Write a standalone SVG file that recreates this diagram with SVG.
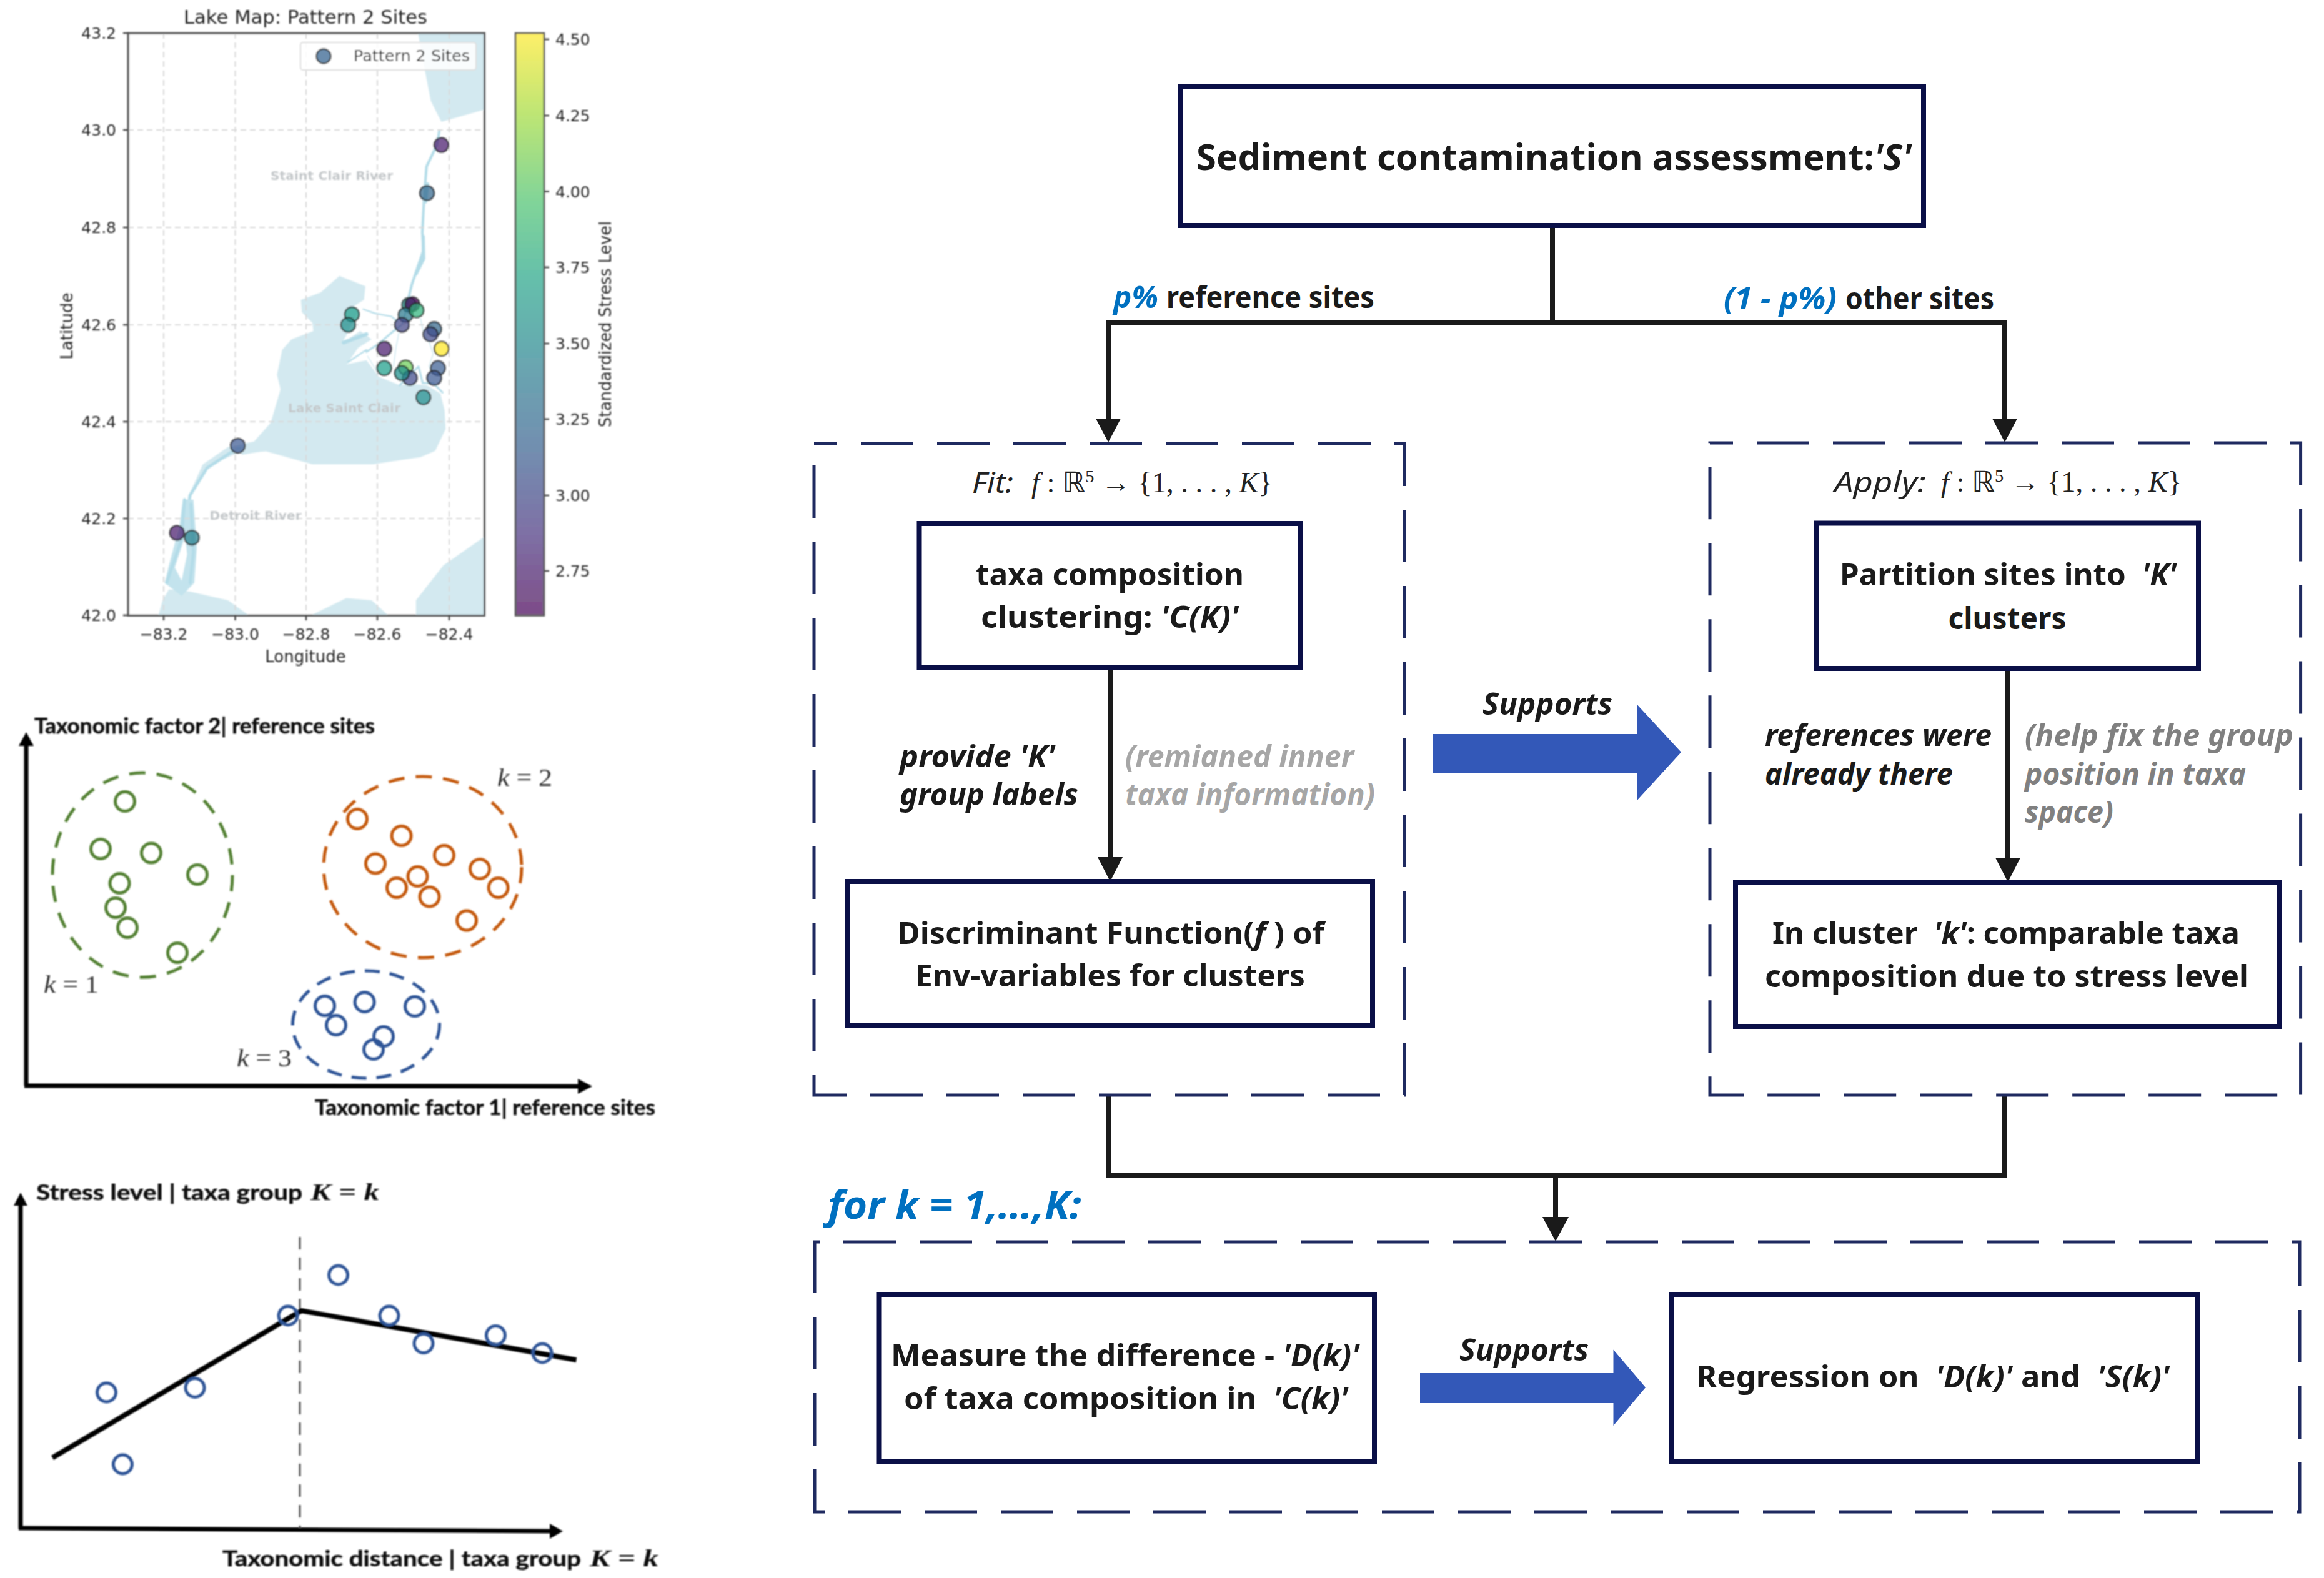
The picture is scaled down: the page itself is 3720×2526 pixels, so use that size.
<svg xmlns="http://www.w3.org/2000/svg" width="3720" height="2526" viewBox="0 0 3720 2526">
<defs>
<style>
.bg{fill:#fff}
.dj{font-family:"DejaVu Sans",sans-serif;fill:#262626}
.tick{font-size:25px}
.lab{font-size:26px}
.place{font-family:"DejaVu Sans",sans-serif;font-size:20px;font-weight:700;fill:#c4c8ca}
.grid{stroke:#d8d8d8;stroke-width:2;stroke-dasharray:9 6;fill:none}
.water{fill:#d3e9f0}
.river{fill:none;stroke:#b3dce8;stroke-linejoin:round;stroke-linecap:round}
.site{stroke:#222;stroke-opacity:.75;stroke-width:2.5;fill-opacity:.72}
.frame{fill:none;stroke:#555;stroke-width:3}
.tk{stroke:#444;stroke-width:2.5}
.lato{font-family:Lato,"Open Sans",sans-serif;font-weight:700;font-size:34px;fill:#111;stroke:#111;stroke-width:.5px}
.kl{font-family:"Liberation Serif",serif;font-size:40px;fill:#333}
.mb{font-family:"Liberation Serif",serif;font-weight:700;font-style:italic;font-size:38px;fill:#111}
.axis{stroke:#000;stroke-width:7;fill:none}
.g1{fill:none;stroke:#548235;stroke-width:5}
.o1{fill:none;stroke:#c55a11;stroke-width:5}
.b1{fill:none;stroke:#2f5597;stroke-width:5}
.box{fill:#fff;stroke:#0a0f47;stroke-width:8}
.dashbox{fill:none;stroke:#1f2a60;stroke-width:5;stroke-dasharray:84 38}
.conn{fill:none;stroke:#1a1a1a;stroke-width:8}
.t{font-family:"Noto Sans",sans-serif;font-weight:700;font-size:48px;fill:#1a1a1a}
.title{font-size:58px}
.for{font-size:62px}
.i{font-style:italic}
.th{font-family:"Noto Sans",sans-serif;font-size:46px;font-style:italic;fill:#222}
.m{font-family:"Liberation Serif",serif;font-size:46px;fill:#222}
.blue{fill:#0070c0}
.g7{fill:#a6a6a6}
.g5{fill:#808080}
.big{fill:#3358b8}
</style>
<filter id="soft" x="-2%" y="-2%" width="104%" height="104%"><feGaussianBlur stdDeviation="0.8"/></filter>
<linearGradient id="vir" x1="0" y1="1" x2="0" y2="0">
<stop offset="0" stop-color="#440154" stop-opacity=".7"/>
<stop offset=".14" stop-color="#46327e" stop-opacity=".7"/>
<stop offset=".28" stop-color="#365c8d" stop-opacity=".7"/>
<stop offset=".43" stop-color="#277f8e" stop-opacity=".7"/>
<stop offset=".57" stop-color="#1fa187" stop-opacity=".7"/>
<stop offset=".71" stop-color="#4ac16d" stop-opacity=".7"/>
<stop offset=".86" stop-color="#a0da39" stop-opacity=".7"/>
<stop offset="1" stop-color="#fde725" stop-opacity=".7"/>
</linearGradient>
</defs>
<rect class="bg" width="3720" height="2526"/>

<g id="lake-map" filter="url(#soft)">
<text class="dj" x="489" y="38" font-size="31" text-anchor="middle" textLength="390" lengthAdjust="spacingAndGlyphs">Lake Map: Pattern 2 Sites</text>
<g transform="scale(.676,.7015)">
<path class="water" d="M990,76H1147V250L1045,278L1020,230L1000,130Z"/>
<path class="water" d="M985,1405L985,1370L1050,1290L1147,1225V1405Z"/>
<path class="water" d="M375,1405L385,1370L400,1345L450,1350L540,1370L590,1405Z"/>
<path class="water" d="M735,1405L820,1365L880,1370L920,1405Z"/>
<path class="river" stroke-width="6" d="M1040,300L1035,330L1010,380L1005,440L1000,530L1003,570L975,650L965,690"/>
<path class="river" stroke-width="8" d="M1012,420L1008,460M1002,540L1003,590L985,625"/>
<path class="water" d="M600,1008L625,1005L630,1030L560,1035L500,1060L470,1100L445,1135L480,1060L540,1020Z"/>
<path class="river" stroke-width="7" d="M610,1022L560,1024L490,1068L450,1130L437,1200"/>
<path d="M433,1140L458,1140L466,1250L460,1330L430,1360L390,1330L400,1290L425,1200Z" fill="#c3e3ed"/>
<path class="bg" d="M438,1225L414,1295L430,1325L443,1265Z"/>
<path class="river" stroke-width="7" d="M437,1140L430,1230L405,1300L395,1330M452,1150L458,1260L450,1330"/>
</g>
<g transform="translate(400,400) scale(.3333)">
<path class="water" d="M245,240L340,205L430,125L555,175L548,240L500,270L520,300L470,400L440,450L530,390L585,430L520,470L465,550L560,530L620,610L720,650L780,645L850,650L915,690L935,770L940,860L890,965L820,995L590,1030L300,1030L70,965L-40,985L-40,950L20,920L100,830L147,670L130,600L155,480L200,430L305,390L300,350L250,300Z"/>
<path class="river" stroke-width="9" d="M762,240L745,310L730,360L690,390L620,450L560,490"/>
<path class="river" stroke-width="7" d="M545,285L600,305L680,320L710,345M480,430L560,400M470,540L560,480"/>
<path class="river" stroke-width="3" d="M820,330L830,380L860,440L880,500L860,560L880,600M715,400L700,480L690,560M565,510L620,600"/>
<path class="river" stroke-width="9" d="M720,650L810,560L830,640L880,640L925,685"/>
<path class="river" stroke-width="18" d="M450,445L560,405"/>
</g>
<g class="grid">
<path d="M262,53V985M376.500,53V985M490,53V985M604,53V985M719,53V985"/>
<path d="M205,208H775M205,364H775M205,520H775M205,675H775M205,830H775"/>
</g>
<text class="place" x="531" y="288" text-anchor="middle" textLength="196">Staint Clair River</text>
<text class="place" x="551" y="660" text-anchor="middle" textLength="180">Lake Saint Clair</text>
<text class="place" x="409" y="832" text-anchor="middle" textLength="147">Detroit River</text>
<g id="sites">
<circle class="site" cx="706.500" cy="232" r="11.500" fill="#481b6d"/>
<circle class="site" cx="683.500" cy="309" r="11.500" fill="#31688e"/>
<circle class="site" cx="563.300" cy="503.300" r="11.500" fill="#1f9e89"/>
<circle class="site" cx="557.300" cy="520" r="11.500" fill="#1f8f8b"/>
<circle class="site" cx="655" cy="488" r="11.500" fill="#1f8f8b"/>
<circle class="site" cx="660" cy="487" r="11.500" fill="#440154"/>
<circle class="site" cx="649.300" cy="504" r="11.500" fill="#2a788e"/>
<circle class="site" cx="666.700" cy="496.700" r="11.500" fill="#2fb47c"/>
<circle class="site" cx="643.300" cy="520" r="11.500" fill="#414487"/>
<circle class="site" cx="695" cy="526.700" r="11.500" fill="#31688e"/>
<circle class="site" cx="689" cy="535" r="11.500" fill="#3e4a89"/>
<circle class="site" cx="706.700" cy="558.300" r="11.500" fill="#fde725"/>
<circle class="site" cx="615" cy="558.300" r="11.500" fill="#481b6d"/>
<circle class="site" cx="615" cy="589.300" r="11.500" fill="#1f9e89"/>
<circle class="site" cx="649.300" cy="588.300" r="11.500" fill="#6ece58"/>
<circle class="site" cx="656" cy="605" r="11.500" fill="#3e4a89"/>
<circle class="site" cx="643.300" cy="597.300" r="11.500" fill="#1f8f8b"/>
<circle class="site" cx="701" cy="589.300" r="11.500" fill="#3b5f91"/>
<circle class="site" cx="695" cy="605" r="11.500" fill="#3b5791"/>
<circle class="site" cx="677.700" cy="636" r="11.500" fill="#218e8d"/>
<circle class="site" cx="380.600" cy="713.500" r="11.500" fill="#3b5791"/>
<circle class="site" cx="283.300" cy="853" r="11.500" fill="#481b6d"/>
<circle class="site" cx="307" cy="860.800" r="11.500" fill="#277f8e"/>
</g>
<rect x="481" y="68" width="281" height="44" rx="4" fill="#fff" fill-opacity=".85" stroke="#ddd" stroke-width="2"/>
<circle class="site" cx="518" cy="90" r="11.500" fill="#31608e"/>
<text class="dj" x="566" y="98" font-size="24" textLength="186" lengthAdjust="spacingAndGlyphs">Pattern 2 Sites</text>
<rect class="frame" x="205" y="53" width="570.500" height="932.500"/>
<path class="tk" d="M262,985V993M376.500,985V993M490,985V993M604,985V993M719,985V993M197,53H205M197,208H205M197,364H205M197,520H205M197,675H205M197,830H205M197,985H205"/>
<g class="dj tick" text-anchor="middle">
<text x="262" y="1024">−83.2</text><text x="376.500" y="1024">−83.0</text><text x="490" y="1024">−82.8</text><text x="604" y="1024">−82.6</text><text x="719" y="1024">−82.4</text>
</g>
<g class="dj tick" text-anchor="end">
<text x="186" y="62">43.2</text><text x="186" y="217">43.0</text><text x="186" y="373">42.8</text><text x="186" y="529">42.6</text><text x="186" y="684">42.4</text><text x="186" y="839">42.2</text><text x="186" y="994">42.0</text>
</g>
<text class="dj lab" x="489" y="1060" text-anchor="middle">Longitude</text>
<text class="dj lab" transform="translate(116,522) rotate(-90)" text-anchor="middle">Latitude</text>
<rect x="825" y="53" width="46" height="932.500" fill="url(#vir)" stroke="#555" stroke-width="2.500"/>
<path class="tk" d="M871,63H879M871,185H879M871,306.500H879M871,428H879M871,550H879M871,671H879M871,793H879M871,914H879"/>
<g class="dj tick">
<text x="889" y="72">4.50</text><text x="889" y="194">4.25</text><text x="889" y="315.500">4.00</text><text x="889" y="437">3.75</text><text x="889" y="559">3.50</text><text x="889" y="680">3.25</text><text x="889" y="802">3.00</text><text x="889" y="923">2.75</text>
</g>
<text class="dj lab" transform="translate(978,519) rotate(-90)" text-anchor="middle" textLength="330" lengthAdjust="spacingAndGlyphs">Standardized Stress Level</text>
</g>

<g id="cluster-plot" filter="url(#soft)">
<path class="axis" d="M42,1738V1190"/><path d="M30,1194L42,1172L54,1194Z"/>
<path class="axis" d="M39,1738L930,1739"/><path d="M925,1727L948,1739L925,1751Z"/>
<text class="lato" x="55" y="1174" textLength="545" lengthAdjust="spacingAndGlyphs">Taxonomic factor 2| reference sites</text>
<text class="lato" x="504" y="1785" textLength="545" lengthAdjust="spacingAndGlyphs">Taxonomic factor 1| reference sites</text>
<ellipse cx="228" cy="1400.700" rx="144" ry="163.600" class="g1" stroke-dasharray="26 18"/>
<ellipse cx="676.500" cy="1388" rx="158.500" ry="145" class="o1" stroke-dasharray="26 18"/>
<ellipse cx="586" cy="1640" rx="117.500" ry="86" class="b1" stroke-dasharray="24 16"/>
<g class="g1">
<circle cx="200" cy="1283" r="15.500"/><circle cx="161" cy="1359" r="15.500"/><circle cx="242" cy="1365.500" r="15.500"/><circle cx="316" cy="1400" r="15.500"/><circle cx="191.500" cy="1414" r="15.500"/><circle cx="185" cy="1453" r="15.500"/><circle cx="204" cy="1485" r="15.500"/><circle cx="284" cy="1525" r="15.500"/>
</g>
<g class="o1">
<circle cx="572" cy="1311" r="15.500"/><circle cx="642.600" cy="1338" r="15.500"/><circle cx="711" cy="1369" r="15.500"/><circle cx="601" cy="1382.500" r="15.500"/><circle cx="768" cy="1391" r="15.500"/><circle cx="668.500" cy="1403" r="15.500"/><circle cx="635" cy="1421" r="15.500"/><circle cx="797.600" cy="1421" r="15.500"/><circle cx="687.500" cy="1435.600" r="15.500"/><circle cx="747" cy="1473.500" r="15.500"/>
</g>
<g class="b1">
<circle cx="520" cy="1610" r="15.500"/><circle cx="583.600" cy="1604" r="15.500"/><circle cx="664" cy="1611" r="15.500"/><circle cx="538" cy="1641" r="15.500"/><circle cx="614" cy="1659" r="15.500"/><circle cx="598" cy="1680" r="15.500"/>
</g>
<text class="kl" x="796" y="1258" textLength="88" lengthAdjust="spacingAndGlyphs"><tspan font-style="italic">k</tspan> = 2</text>
<text class="kl" x="70" y="1589" textLength="88" lengthAdjust="spacingAndGlyphs"><tspan font-style="italic">k</tspan> = 1</text>
<text class="kl" x="379" y="1707" textLength="88" lengthAdjust="spacingAndGlyphs"><tspan font-style="italic">k</tspan> = 3</text>
</g>

<g id="regression-plot" filter="url(#soft)">
<path class="axis" d="M33,2447V1925"/><path d="M22,1930L33,1909L44,1930Z"/>
<path class="axis" d="M30,2446L885,2451"/><path d="M880,2439L901,2451L880,2463Z"/>
<text class="lato" x="58" y="1921" textLength="426" lengthAdjust="spacingAndGlyphs">Stress level | taxa group</text>
<text class="mb" x="497" y="1921" textLength="110" lengthAdjust="spacingAndGlyphs">K = k</text>
<text class="lato" x="356" y="2507" textLength="574" lengthAdjust="spacingAndGlyphs">Taxonomic distance | taxa group</text>
<text class="mb" x="944" y="2507" textLength="110" lengthAdjust="spacingAndGlyphs">K = k</text>
<path d="M480,1980V2446" fill="none" stroke="#555" stroke-width="3" stroke-dasharray="20 13"/>
<path d="M84,2333.500L482.600,2098L922.500,2177" fill="none" stroke="#000" stroke-width="8"/>
<g class="b1" stroke-width="4.500">
<circle cx="170.500" cy="2229" r="15"/><circle cx="196.400" cy="2344" r="15"/><circle cx="312" cy="2221.500" r="15"/><circle cx="461" cy="2106" r="15"/><circle cx="541.600" cy="2041" r="15"/><circle cx="623" cy="2106" r="15"/><circle cx="678" cy="2150.600" r="15"/><circle cx="793.400" cy="2137.500" r="15"/><circle cx="868" cy="2166" r="15"/>
</g>
</g>

<g id="connectors">
<path class="conn" d="M2485,361V517"/>
<path class="conn" d="M1774,672V517H3209V672"/>
<path d="M1754,670L1774,708L1794,670Z" fill="#1a1a1a"/>
<path d="M3189,670L3209,708L3229,670Z" fill="#1a1a1a"/>
<path class="conn" d="M1777,1069V1375"/>
<path d="M1757,1372L1777,1411L1797,1372Z" fill="#1a1a1a"/>
<path class="conn" d="M3214,1070V1376"/>
<path d="M3194,1373L3214,1412L3234,1373Z" fill="#1a1a1a"/>
<path class="conn" d="M1775,1753V1882H3209V1753"/>
<path class="conn" d="M2490,1882V1950"/>
<path d="M2469,1948L2490,1987L2511,1948Z" fill="#1a1a1a"/>
</g>

<g id="top-node">
<rect class="box" x="1889" y="139" width="1190" height="222"/>
<text class="t title" x="1915" y="272" textLength="1145" lengthAdjust="spacingAndGlyphs">Sediment contamination assessment:<tspan class="i">'S'</tspan></text>
</g>
<g id="edge-labels">
<text class="t blue i" x="1782" y="493" textLength="72" lengthAdjust="spacingAndGlyphs">p%</text>
<text class="t" x="1867" y="493" textLength="333" lengthAdjust="spacingAndGlyphs">reference sites</text>
<text class="t blue i" x="2759" y="495" textLength="181" lengthAdjust="spacingAndGlyphs">(1 - p%)</text>
<text class="t" x="2954" y="495" textLength="238" lengthAdjust="spacingAndGlyphs">other sites</text>
</g>

<g id="fit-group">
<path class="dashbox" stroke-dashoffset="47" d="M1303,710H2248V1753H1303Z"/>
<text class="th" x="1556" y="789" textLength="66" lengthAdjust="spacingAndGlyphs">Fit:</text>
<text class="m" x="1651" y="788" textLength="386" lengthAdjust="spacingAndGlyphs"><tspan font-style="italic">f</tspan> : <tspan font-family="DejaVu Sans">ℝ</tspan><tspan font-size="28" dy="-16">5</tspan><tspan dy="16"> → {1, . . . , </tspan><tspan font-style="italic">K</tspan>}</text>
</g>
<g id="taxa-node">
<rect class="box" x="1471.500" y="838" width="609.500" height="231"/>
<text class="t" x="1562" y="937" textLength="429" lengthAdjust="spacingAndGlyphs">taxa composition</text>
<text class="t" x="1570" y="1005" textLength="413" lengthAdjust="spacingAndGlyphs">clustering: <tspan class="i">'C(K)'</tspan></text>
</g>
<g id="fit-labels">
<text class="t i" x="1440" y="1228" textLength="249" lengthAdjust="spacingAndGlyphs">provide 'K'</text>
<text class="t i" x="1440" y="1289" textLength="286" lengthAdjust="spacingAndGlyphs">group labels</text>
<text class="t i g7" x="1801" y="1228" textLength="366" lengthAdjust="spacingAndGlyphs">(remianed inner</text>
<text class="t i g7" x="1801" y="1289" textLength="400" lengthAdjust="spacingAndGlyphs">taxa information)</text>
</g>
<g id="discriminant-node">
<rect class="box" x="1357" y="1411" width="840" height="231"/>
<text class="t" x="1436" y="1511" textLength="684" lengthAdjust="spacingAndGlyphs">Discriminant Function(<tspan class="i">f</tspan> ) of</text>
<text class="t" x="1465" y="1579" textLength="624" lengthAdjust="spacingAndGlyphs">Env-variables for clusters</text>
</g>

<g id="supports-1">
<text class="t i" x="2373" y="1144" textLength="208" lengthAdjust="spacingAndGlyphs">Supports</text>
<path class="big" d="M2294,1175H2620.600V1128L2691,1204L2620.600,1281V1238H2294Z"/>
</g>

<g id="apply-group">
<path class="dashbox" stroke-dashoffset="47" d="M2737,709H3682.600V1753H2737Z"/>
<text class="th" x="2936" y="788" textLength="147" lengthAdjust="spacingAndGlyphs">Apply:</text>
<text class="m" x="3107" y="787" textLength="385" lengthAdjust="spacingAndGlyphs"><tspan font-style="italic">f</tspan> : <tspan font-family="DejaVu Sans">ℝ</tspan><tspan font-size="28" dy="-16">5</tspan><tspan dy="16"> → {1, . . . , </tspan><tspan font-style="italic">K</tspan>}</text>
</g>
<g id="partition-node">
<rect class="box" x="2907" y="837.500" width="612" height="232.500"/>
<text class="t" x="2945" y="937" textLength="539" lengthAdjust="spacingAndGlyphs" xml:space="preserve">Partition sites into  <tspan class="i">'K'</tspan></text>
<text class="t" x="3118.500" y="1007" textLength="189" lengthAdjust="spacingAndGlyphs">clusters</text>
</g>
<g id="apply-labels">
<text class="t i" x="2825" y="1194" textLength="363" lengthAdjust="spacingAndGlyphs">references were</text>
<text class="t i" x="2825" y="1256" textLength="301" lengthAdjust="spacingAndGlyphs">already there</text>
<text class="t i g5" x="3241" y="1194" textLength="430" lengthAdjust="spacingAndGlyphs">(help fix the group</text>
<text class="t i g5" x="3241" y="1256" textLength="354" lengthAdjust="spacingAndGlyphs">position in taxa</text>
<text class="t i g5" x="3241" y="1317" textLength="142" lengthAdjust="spacingAndGlyphs">space)</text>
</g>
<g id="cluster-node">
<rect class="box" x="2778" y="1412" width="870" height="231"/>
<text class="t" x="2837" y="1511" textLength="748" lengthAdjust="spacingAndGlyphs" xml:space="preserve">In cluster  <tspan class="i">'k'</tspan>: comparable taxa</text>
<text class="t" x="2825" y="1580" textLength="774" lengthAdjust="spacingAndGlyphs">composition due to stress level</text>
</g>

<g id="loop-group">
<text class="t i blue for" x="1325" y="1951" textLength="406" lengthAdjust="spacingAndGlyphs">for k = 1,…,K:</text>
<path class="dashbox" stroke-dashoffset="76" d="M1304,1988H3681V2420H1304Z"/>
</g>
<g id="measure-node">
<rect class="box" x="1407.500" y="2072" width="792.500" height="267"/>
<text class="t" x="1426" y="2187" textLength="750" lengthAdjust="spacingAndGlyphs">Measure the difference - <tspan class="i">'D(k)'</tspan></text>
<text class="t" x="1447" y="2256" textLength="711" lengthAdjust="spacingAndGlyphs" xml:space="preserve">of taxa composition in  <tspan class="i">'C(k)'</tspan></text>
</g>
<g id="supports-2">
<text class="t i" x="2336" y="2178" textLength="207" lengthAdjust="spacingAndGlyphs">Supports</text>
<path class="big" d="M2273,2198H2582.500V2160.500L2634,2221L2582.500,2282V2246H2273Z"/>
</g>
<g id="regression-node">
<rect class="box" x="2676" y="2072" width="841" height="267"/>
<text class="t" x="2715" y="2221" textLength="758" lengthAdjust="spacingAndGlyphs" xml:space="preserve">Regression on  <tspan class="i">'D(k)'</tspan> and  <tspan class="i">'S(k)'</tspan></text>
</g>
</svg>
